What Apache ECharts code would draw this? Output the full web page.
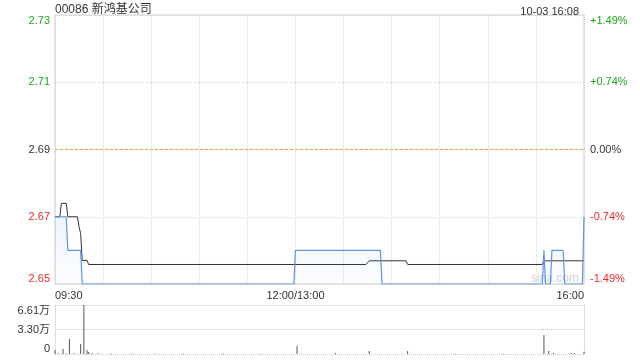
<!DOCTYPE html>
<html><head><meta charset="utf-8">
<script src="https://cdn.jsdelivr.net/npm/echarts@6/dist/echarts.min.js"></script>
<style>html,body{margin:0;padding:0;background:#fff}#c{width:640px;height:360px}</style>
</head><body><div id="c"></div>
<script>
const titleText = '00086 新鸿基公司';
const timeText = '10-03 16:08';
const prevClose = 2.69;
const priceMin = 2.65, priceMax = 2.73, priceStep = 0.02;
const priceTicks = ['2.65', '2.67', '2.69', '2.71', '2.73'];
const pctTicks = ['-1.49%', '-0.74%', '0.00%', '+0.74%', '+1.49%'];
const volMax = 66100, volStep = 33050;
const volTicks = ['0', '3.30万', '6.61万'];
const timeTickIdx = [0, 150, 330];
const timeTickText = ['09:30', '12:00/13:00', '16:00'];

// price (minute index, value) at change points
const priceIdx = [0, 7, 8, 16, 17, 149, 150, 203, 204, 304, 305, 306, 309, 310, 317, 318, 329, 330];
const priceVal = [2.67, 2.67, 2.66, 2.66, 2.65, 2.65, 2.66, 2.66, 2.65, 2.65, 2.66, 2.65, 2.65, 2.66, 2.66, 2.65, 2.65, 2.67];
// average price
const avgIdx = [0, 3, 4, 7, 8, 14, 15, 16, 17, 20, 21, 194, 196, 219, 220, 304, 305, 330];
const avgVal = [2.67, 2.67, 2.674, 2.674, 2.67, 2.67, 2.667, 2.665, 2.657, 2.657, 2.6558, 2.6558, 2.6569, 2.6569, 2.6558, 2.6558, 2.6569, 2.6569];
// volume bars
const volIdx = [0, 2, 5, 7, 9, 12, 16, 18, 20, 21, 23, 27, 35, 48, 62, 80, 105, 128, 151, 175, 196, 220, 250, 280, 305, 308, 311, 322, 324, 330];
const volVal = [5400, 900, 6700, 900, 20200, 900, 13500, 66100, 5400, 2700, 1200, 900, 800, 800, 800, 800, 800, 800, 10800, 1300, 4000, 4000, 800, 800, 25600, 4000, 1300, 1300, 1300, 3000];

const zip = (a, b) => a.map((x, i) => [x, b[i]]);
const GREEN = '#1ea51e', RED = '#f02828', DARK = '#333';
const priceColor = v => (v > prevClose + 1e-9 ? GREEN : (v < prevClose - 1e-9 ? RED : DARK));
const FONT = '"Liberation Sans", Arial, "Noto Sans CJK SC", sans-serif';

const chart = echarts.init(document.getElementById('c'), null, {renderer: 'canvas'});
chart.setOption({
  animation: false,
  textStyle: {fontFamily: FONT},
  title: [
    {text: titleText, left: 50, top: -1, textStyle: {fontSize: 12, fontWeight: 'normal', color: DARK, fontFamily: FONT}},
    {text: timeText, right: 56, top: 1, textStyle: {fontSize: 11, fontWeight: 'normal', color: DARK, fontFamily: FONT}}
  ],
  graphic: [{type: 'text', left: 531, top: 273, style: {text: 'sina.com', fill: '#d0d0d0', fontSize: 12, fontFamily: FONT}, z: 0}],
  grid: [
    {left: 55, right: 56, top: 15, height: 269, show: true, borderColor: '#cfcfcf', borderWidth: 1, backgroundColor: 'transparent'},
    {left: 55, right: 56, top: 305, height: 49, show: false}
  ],
  xAxis: [
    {gridIndex: 0, type: 'value', min: 0, max: 330, interval: 30,
      axisLine: {show: false}, axisTick: {show: false},
      splitLine: {show: true, lineStyle: {color: '#d8d8d8', type: 'dotted'}},
      axisLabel: {show: true, color: DARK, fontSize: 11, margin: 6,
        alignMinLabel: 'left', alignMaxLabel: 'right',
        formatter: v => { const k = timeTickIdx.indexOf(Math.round(v)); return k >= 0 ? timeTickText[k] : ''; }}
    },
    {gridIndex: 1, type: 'value', min: 0, max: 330, interval: 30,
      axisLine: {show: false}, axisTick: {show: false}, axisLabel: {show: false}, splitLine: {show: false}}
  ],
  yAxis: [
    {gridIndex: 0, type: 'value', position: 'left', min: priceMin, max: priceMax, interval: priceStep,
      axisLine: {show: false}, axisTick: {show: false},
      splitLine: {show: true, lineStyle: {color: '#d8d8d8', type: 'dotted'}},
      axisLabel: {fontSize: 11, margin: 5, verticalAlignMinLabel: 'bottom', verticalAlignMaxLabel: 'top',
        formatter: v => priceTicks[Math.round((v - priceMin) / priceStep)],
        color: v => priceColor(+v)}
    },
    {gridIndex: 0, type: 'value', position: 'right', min: priceMin, max: priceMax, interval: priceStep,
      axisLine: {show: false}, axisTick: {show: false}, splitLine: {show: false},
      axisLabel: {fontSize: 11, margin: 6, verticalAlignMinLabel: 'bottom', verticalAlignMaxLabel: 'top',
        formatter: v => pctTicks[Math.round((v - priceMin) / priceStep)],
        color: (val, idx) => { const p = priceMin + idx * priceStep; return priceColor(p); }}
    },
    {gridIndex: 1, type: 'value', position: 'left', min: 0, max: volMax, interval: volStep,
      axisLine: {show: true, lineStyle: {color: '#dcdcdc'}}, axisTick: {show: false},
      splitLine: {show: true, lineStyle: {color: '#c8c8c8', type: 'dotted'}},
      axisLabel: {fontSize: 11, margin: 5, color: DARK, verticalAlignMinLabel: 'bottom', verticalAlignMaxLabel: 'top',
        formatter: v => volTicks[Math.round(v / volStep)]}
    },
    {gridIndex: 1, type: 'value', position: 'right', min: 0, max: volMax, interval: volStep,
      axisLine: {show: true, lineStyle: {color: '#dcdcdc'}}, axisTick: {show: false},
      splitLine: {show: false}, axisLabel: {show: false}}
  ],
  series: [
    {type: 'line', xAxisIndex: 0, yAxisIndex: 0, data: zip(avgIdx, avgVal), symbol: 'none',
      lineStyle: {color: '#333', width: 1}, z: 3,
      markLine: {silent: true, symbol: 'none', label: {show: false},
        lineStyle: {color: '#f29a50', type: [3, 2], width: 1, opacity: 1},
        emphasis: {disabled: true},
        data: [{yAxis: prevClose, lineStyle: {color: '#f29a50'}}]}
    },
    {type: 'line', xAxisIndex: 0, yAxisIndex: 0, data: zip(priceIdx, priceVal), symbol: 'none',
      lineStyle: {color: '#5b95e8', width: 1.2}, z: 4,
      areaStyle: {origin: 'start', color: new echarts.graphic.LinearGradient(0, 0, 0, 1, [
        {offset: 0, color: 'rgba(91,149,232,0.14)'}, {offset: 1, color: 'rgba(91,149,232,0.03)'}])}
    },
    {type: 'bar', xAxisIndex: 1, yAxisIndex: 2, data: zip(volIdx, volVal), barWidth: 1,
      itemStyle: {color: '#555'}}
  ]
});
</script></body></html>
